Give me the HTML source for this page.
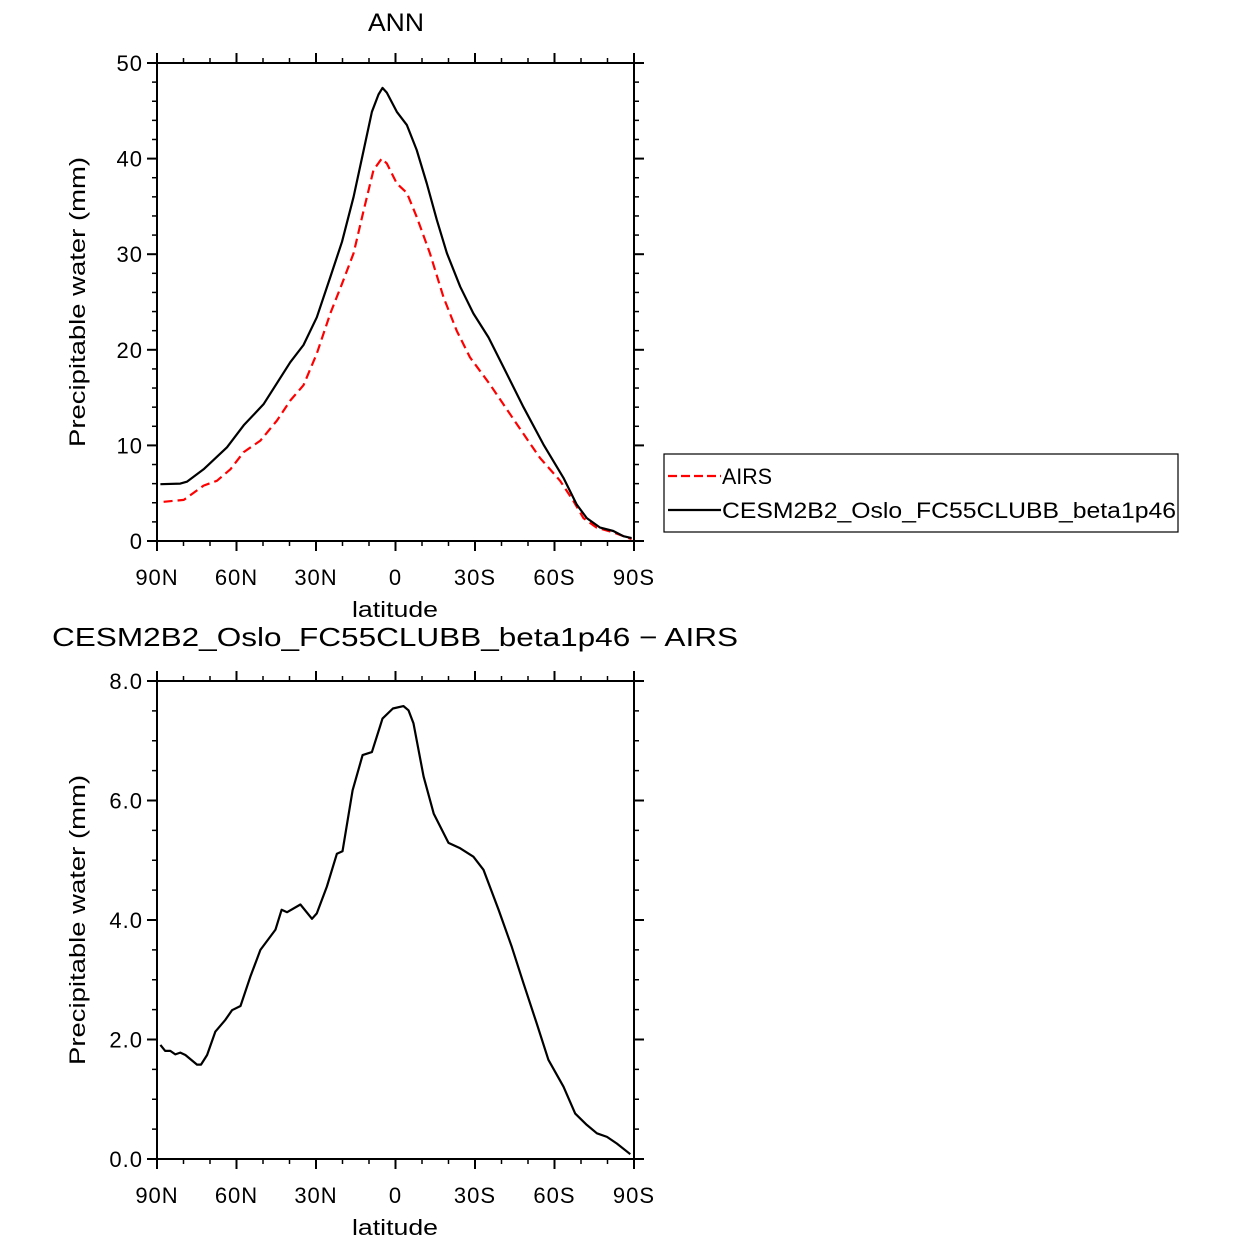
<!DOCTYPE html>
<html><head><meta charset="utf-8"><style>
html,body{margin:0;padding:0;background:#fff;}
svg{display:block;font-family:"Liberation Sans",sans-serif;}
</style></head><body>
<svg id="c" width="1246" height="1246" viewBox="0 0 1246 1246"></svg>
<script>
const latC=[88.7,81.2,78.7,72.4,63.6,57.3,49.8,39.7,34.7,29.7,24.6,20.2,15.8,12.0,8.9,6.4,4.9,3.3,-0.5,-4.3,-8.0,-11.8,-15.6,-19.4,-24.4,-29.4,-35.1,-40.7,-48.3,-55.8,-63.4,-68.4,-72.2,-77.2,-82.2,-86.0,-89.1];
const valC=[5.94,6.0,6.2,7.5,9.8,12.1,14.3,18.7,20.5,23.4,27.6,31.3,36.0,40.9,44.9,46.7,47.4,46.9,44.9,43.5,40.9,37.4,33.6,30.1,26.6,23.8,21.3,18.2,14.0,10.1,6.6,3.8,2.4,1.4,1.05,0.5,0.3];
const latA=[87.5,79.9,72.4,67.4,62.3,57.3,51.0,44.7,39.7,34.7,29.7,24.6,20.2,15.8,12.0,8.3,5.2,3.3,-0.5,-4.3,-8.0,-13.0,-18.1,-23.1,-28.1,-35.6,-40.7,-48.3,-54.5,-62.1,-67.1,-70.9,-75.9,-82.2,-89.1];
const valA=[4.1,4.3,5.8,6.3,7.5,9.3,10.5,12.6,14.7,16.3,19.6,23.8,26.9,30.1,34.6,38.8,40.0,39.5,37.4,36.4,33.9,30.1,25.5,22.0,19.2,16.4,14.3,11.2,8.7,6.3,4.2,2.4,1.4,0.9,0.2];
const latD=[88.7,86.9,85.0,83.1,81.2,79.3,74.9,73.4,71.1,68.0,64.2,61.7,58.5,54.8,51.0,45.3,43.0,40.9,35.9,31.5,29.7,25.9,22.1,20.0,16.2,12.4,8.9,4.9,1.0,-3.0,-4.9,-6.8,-10.6,-14.4,-20.0,-24.4,-29.4,-33.2,-38.9,-43.9,-48.3,-53.3,-57.7,-63.4,-67.8,-72.2,-76.0,-79.8,-83.5,-88.6];
const valD=[1.91,1.81,1.81,1.75,1.78,1.74,1.58,1.58,1.74,2.13,2.33,2.49,2.56,3.05,3.50,3.84,4.17,4.13,4.26,4.02,4.11,4.56,5.11,5.15,6.17,6.76,6.81,7.37,7.54,7.58,7.51,7.29,6.40,5.78,5.29,5.20,5.06,4.84,4.17,3.55,2.94,2.27,1.66,1.21,0.76,0.57,0.43,0.37,0.26,0.08];
const xTickLabels=["90N","60N","30N","0","30S","60S","90S"];
const yTicksTop=["0","10","20","30","40","50"];
const yTicksBot=["0.0","2.0","4.0","6.0","8.0"];

const svg=document.getElementById('c');
const NS='http://www.w3.org/2000/svg';
function mk(t,a,txt){const e=document.createElementNS(NS,t);for(const k in a)e.setAttribute(k,a[k]);if(txt!==undefined)e.textContent=txt;svg.appendChild(e);return e;}
const X0=157,X1=634;
const xs=lat=>X0+(90-lat)/180*(X1-X0);

function panel(top,bot,ymax,minorStep,majorLabels,majorStep,name){
  const ys=v=>bot-(v/ymax)*(bot-top);
  const r=mk('rect',{x:X0,y:top,width:X1-X0,height:bot-top,fill:'none',stroke:'#000','stroke-width':2});
  
  for(let v=0;v<=ymax+1e-9;v+=minorStep){
    const maj=Math.abs(v/majorStep-Math.round(v/majorStep))<1e-6;const L=maj?10:5;const y=ys(v);
    const t1=mk('line',{x1:X0-L,x2:X0,y1:y,y2:y,stroke:'#000','stroke-width':maj?2:1.5});
    
    const t2=mk('line',{x1:X1,x2:X1+L,y1:y,y2:y,stroke:'#000','stroke-width':maj?2:1.5});
    
  }
  majorLabels.forEach((s,i)=>{const t=mk('text',{x:X0-14,y:ys(i*majorStep)+8,'text-anchor':'end','font-size':22,'letter-spacing':1},s);
    });
  for(let lat=90;lat>=-90;lat-=10){
    const maj=lat%30===0;const L=maj?10:5;const x=xs(lat);
    const a=mk('line',{x1:x,x2:x,y1:bot,y2:bot+L,stroke:'#000','stroke-width':maj?2:1.5});
    
    const b=mk('line',{x1:x,x2:x,y1:top-L,y2:top,stroke:'#000','stroke-width':maj?2:1.5});
    
  }
  xTickLabels.forEach((s,i)=>{const t=mk('text',{x:xs(90-30*i),y:bot+44,'text-anchor':'middle','font-size':22,'letter-spacing':1},s);
    });
  const xl=mk('text',{x:352,y:bot+76,'font-size':22,textLength:86,lengthAdjust:'spacingAndGlyphs'},'latitude');
  
  const cy=(top+bot)/2;
  const yl=mk('text',{x:-145,y:0,'font-size':22,textLength:290,lengthAdjust:'spacingAndGlyphs',transform:`translate(85,${cy}) rotate(-90)`},'Precipitable  water  (mm)');
  
  return ys;
}
function line(lats,vals,ys,attrs,name){
  const d=lats.map((l,i)=>(i?'L':'M')+xs(l).toFixed(1)+','+ys(vals[i]).toFixed(1)).join('');
  const p=mk('path',Object.assign({d:d,fill:'none','stroke-linejoin':'round'},attrs));
  
}
const ysT=panel(63,541,50,2,yTicksTop,10,'top-plot');
line(latA,valA,ysT,{stroke:'#f00','stroke-width':2.2,'stroke-dasharray':'9,5'},'airs-line');
line(latC,valC,ysT,{stroke:'#000','stroke-width':2.2},'cesm-line');
const t1=mk('text',{x:368,y:31,'font-size':25,textLength:56,lengthAdjust:'spacingAndGlyphs'},'ANN');


const ysB=panel(681,1159,8,0.5,yTicksBot,2,'bottom-plot');
line(latD,valD,ysB,{stroke:'#000','stroke-width':2.2},'difference-line');
const t2=mk('text',{x:52,y:646,'font-size':26,textLength:686,lengthAdjust:'spacingAndGlyphs'},'CESM2B2_Oslo_FC55CLUBB_beta1p46 \u2212 AIRS');


const lg=mk('rect',{x:664,y:454,width:514,height:78,fill:'#fff',stroke:'#000','stroke-width':1.2});

const l1=mk('line',{x1:668,x2:721,y1:476,y2:476,stroke:'#f00','stroke-width':2.2,'stroke-dasharray':'9,4'});

const lt1=mk('text',{x:722,y:484,'font-size':22,textLength:50,lengthAdjust:'spacingAndGlyphs'},'AIRS');

const l2=mk('line',{x1:668,x2:721,y1:510,y2:510,stroke:'#000','stroke-width':2.2});

const lt2=mk('text',{x:722,y:518,'font-size':22,textLength:454,lengthAdjust:'spacingAndGlyphs'},'CESM2B2_Oslo_FC55CLUBB_beta1p46');

</script>
</body></html>
